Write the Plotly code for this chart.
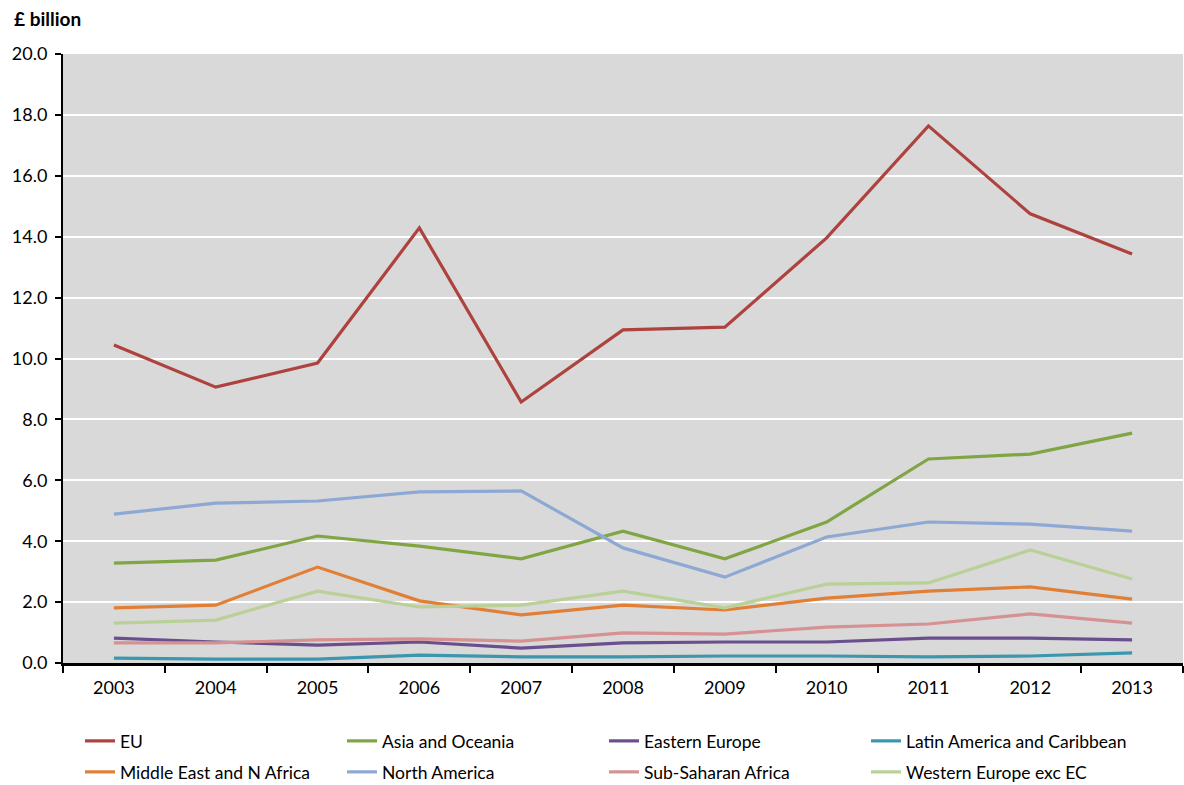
import plotly.graph_objects as go

years = ["2003", "2004", "2005", "2006", "2007", "2008", "2009", "2010", "2011", "2012", "2013"]

eu = [10.44, 9.06, 9.85, 14.29, 8.57, 10.94, 11.03, 13.96, 17.64, 14.75, 13.43]
asia_oceania = [3.28, 3.38, 4.17, 3.84, 3.42, 4.33, 3.42, 4.63, 6.70, 6.86, 7.55]
eastern_europe = [0.82, 0.69, 0.59, 0.69, 0.49, 0.66, 0.69, 0.69, 0.82, 0.82, 0.76]
latin_america = [0.16, 0.13, 0.13, 0.26, 0.20, 0.20, 0.23, 0.23, 0.20, 0.23, 0.33]
middle_east = [1.81, 1.90, 3.15, 2.04, 1.58, 1.90, 1.74, 2.13, 2.36, 2.50, 2.10]
north_america = [4.89, 5.25, 5.32, 5.62, 5.65, 3.78, 2.82, 4.14, 4.63, 4.56, 4.33]
sub_saharan = [0.66, 0.66, 0.76, 0.79, 0.72, 0.99, 0.95, 1.18, 1.28, 1.61, 1.31]
western_europe = [1.31, 1.41, 2.36, 1.84, 1.90, 2.36, 1.81, 2.59, 2.63, 3.71, 2.76]

# (name, values, colour, legend row)
series = [
    ("EU", eu, "#AE423F", "legend"),
    ("Asia and Oceania", asia_oceania, "#80A544", "legend"),
    ("Eastern Europe", eastern_europe, "#6A4F8E", "legend"),
    ("Latin America and Caribbean", latin_america, "#3A97AE", "legend"),
    ("Middle East and N Africa", middle_east, "#E07F35", "legend2"),
    ("North America", north_america, "#8EA8D4", "legend2"),
    ("Sub-Saharan Africa", sub_saharan, "#D69192", "legend2"),
    ("Western Europe exc EC", western_europe, "#B9D096", "legend2"),
]

font_family = "Lato, 'Noto Sans', sans-serif"
FS = 18

fig = go.Figure()
for name, vals, color, leg in series:
    fig.add_trace(go.Scatter(
        x=years, y=vals, name=name, mode="lines",
        line=dict(color=color, width=3.2),
        legend=leg,
    ))

# plot area geometry (px) used to place legends/title in paper coords
PLOT_W, PLOT_H, PLOT_BOTTOM = 1120, 609, 663


def legend_row(y_px):
    return dict(
        orientation="h",
        x=17 / PLOT_W, xanchor="left",
        y=(PLOT_BOTTOM - y_px) / PLOT_H, yanchor="middle",
        entrywidth=217, entrywidthmode="pixels",
        itemwidth=30,
        font=dict(family=font_family, size=17.5, color="black"),
        bgcolor="rgba(0,0,0,0)",
    )


fig.update_layout(
    width=1184, height=785,
    margin=dict(l=63, r=1, t=54, b=122, autoexpand=False),
    paper_bgcolor="white",
    plot_bgcolor="#D9D9D9",
    font=dict(family=font_family, size=FS, color="black"),
    showlegend=True,
    legend=legend_row(741),
    legend2=legend_row(772),
    annotations=[dict(
        text="<b>£ billion</b>", xref="paper", yref="paper",
        x=-51 / PLOT_W, y=1 + 36 / PLOT_H, xanchor="left", yanchor="middle",
        showarrow=False, font=dict(family=font_family, size=19, color="black"),
    )],
)

fig.update_xaxes(
    type="category",
    range=[-0.5, 10.5],
    tickson="boundaries",
    ticks="outside", ticklen=7, tickwidth=2, tickcolor="black",
    ticklabelstandoff=6,
    showline=True, linecolor="black", linewidth=3,
    showgrid=False,
    tickfont=dict(family=font_family, size=FS),
)

fig.update_yaxes(
    range=[0, 20],
    dtick=2, tick0=0,
    tickformat=".1f",
    ticks="outside", ticklen=6, tickwidth=2, tickcolor="black",
    ticklabelstandoff=4,
    showline=True, linecolor="black", linewidth=2,
    showgrid=True, gridcolor="white", gridwidth=2,
    zeroline=False,
    tickfont=dict(family=font_family, size=FS),
)

fig.write_html("out.html")
